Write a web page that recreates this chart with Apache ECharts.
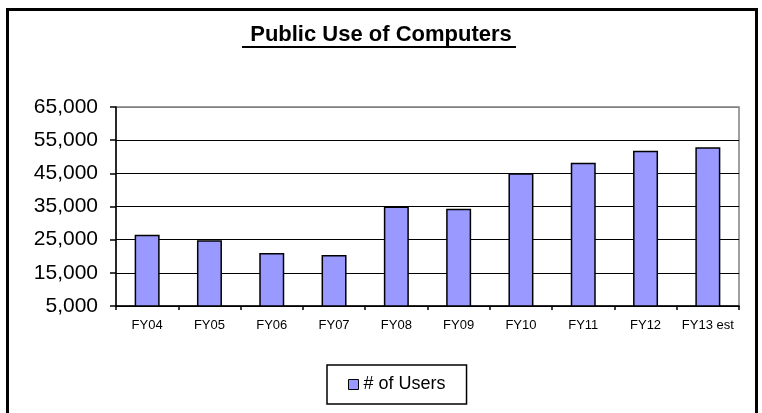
<!DOCTYPE html>
<html>
<head>
<meta charset="utf-8">
<script src="https://cdn.jsdelivr.net/npm/echarts@6/dist/echarts.min.js"></script>
<style>html,body{margin:0;padding:0;background:#fff}#c{width:762px;height:413px}</style>
</head>
<body>
<div id="c"></div>
<script>
var categories = ['FY04','FY05','FY06','FY07','FY08','FY09','FY10','FY11','FY12','FY13 est'];
var users = [26500, 24800, 21000, 20400, 35000, 34300, 45000, 48200, 51800, 52900];
var seriesName = '# of Users';
var chartTitle = 'Public Use of Computers';
var yMin = 5000, yMax = 65000, yStep = 10000;

var font = '"Liberation Sans", Arial, sans-serif';
var chart = echarts.init(document.getElementById('c'), null, {renderer: 'canvas'});
chart.setOption({
  animation: false,
  backgroundColor: '#fff',
  title: {
    text: chartTitle,
    left: 'center',
    top: 24,
    padding: 0,
    textStyle: {fontFamily: font, fontSize: 22, fontWeight: 'bold', color: '#000'}
  },
  graphic: [
    {type: 'rect', shape: {x: 7.5, y: 9.5, width: 749, height: 430}, style: {fill: 'none', stroke: '#000', lineWidth: 3}, silent: true},
    {type: 'line', shape: {x1: 242, y1: 47, x2: 516, y2: 47}, style: {stroke: '#000', lineWidth: 2}, silent: true}
  ],
  grid: {left: 116, right: 23, top: 107, bottom: 107, show: true, borderColor: '#808080', borderWidth: 1.5, backgroundColor: 'transparent'},
  legend: {
    data: [seriesName],
    left: 327, top: 365,
    padding: [10, 21, 10, 21],
    borderColor: '#000', borderWidth: 1.5,
    itemWidth: 10, itemHeight: 10,
    itemGap: 6,
    icon: 'rect',
    itemStyle: {borderColor: '#000', borderWidth: 1},
    textStyle: {fontFamily: font, fontSize: 18, color: '#000', lineHeight: 19}
  },
  xAxis: {
    type: 'category',
    data: categories,
    boundaryGap: true,
    axisLine: {lineStyle: {color: '#000', width: 1.5}},
    axisTick: {show: true, length: 4, interval: 0, lineStyle: {color: '#000', width: 1.5}},
    axisLabel: {fontFamily: font, fontSize: 13, color: '#000', margin: 13, interval: 0}
  },
  yAxis: {
    type: 'value',
    min: yMin, max: yMax, interval: yStep,
    axisLine: {show: true, lineStyle: {color: '#000', width: 1.5}},
    axisTick: {show: true, length: 6, lineStyle: {color: '#000', width: 1.5}},
    axisLabel: {fontFamily: font, fontSize: 21, color: '#000', margin: 18,
      formatter: function (v) { return v.toLocaleString('en-US'); }},
    splitLine: {show: true, lineStyle: {color: ['#000','#000','#000','#000','#000','#000','#808080'], width: 1.2}}
  },
  series: [{
    name: seriesName,
    type: 'bar',
    data: users,
    barWidth: 25,
    itemStyle: {color: '#9999FF', borderColor: '#000', borderWidth: 1.5}
  }]
});
</script>
</body>
</html>
